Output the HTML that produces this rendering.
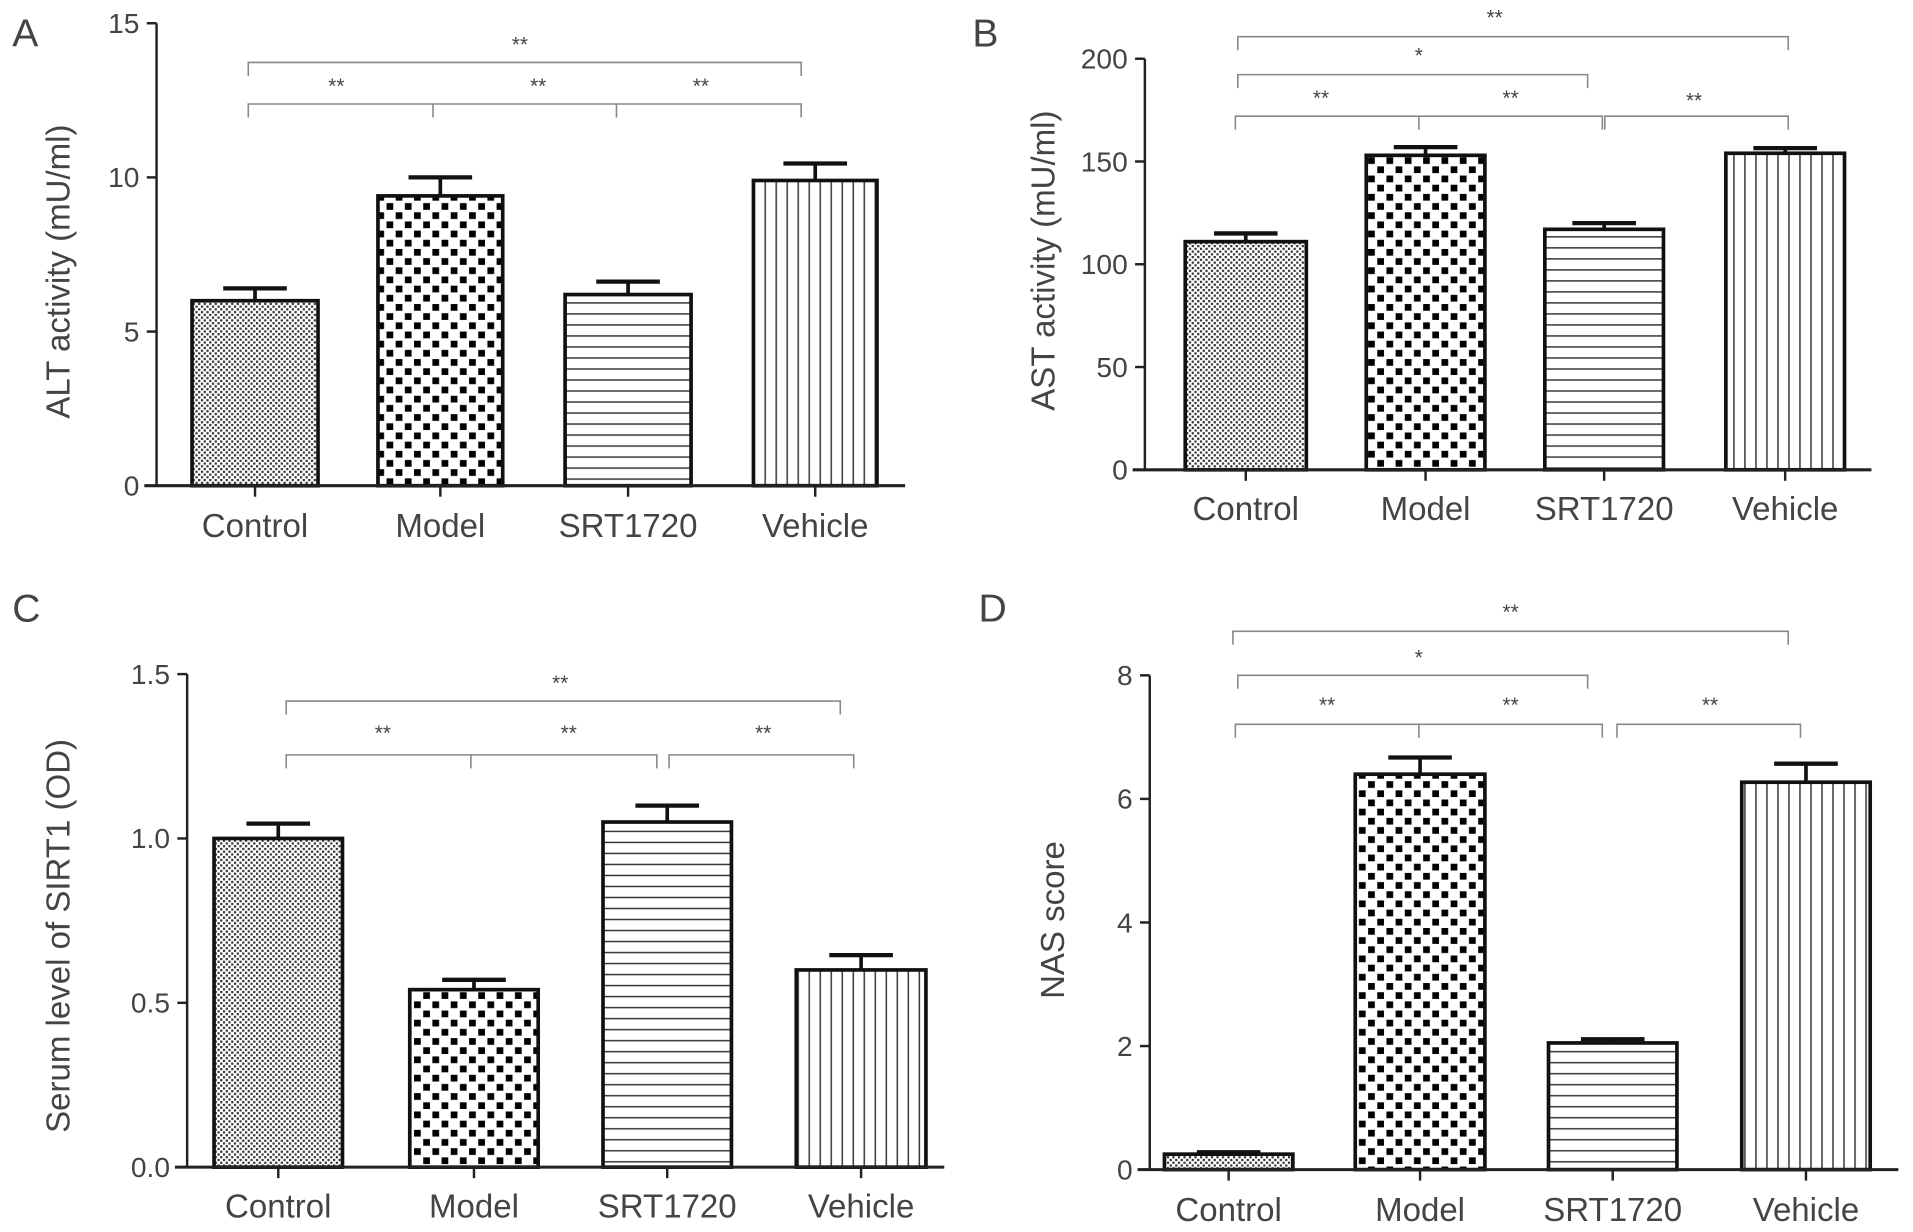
<!DOCTYPE html>
<html><head><meta charset="utf-8"><style>
html,body{margin:0;padding:0;background:#fff;}
svg{display:block;}
text{font-family:"Liberation Sans",sans-serif;fill:#444;}
</style></head><body>
<svg id="fig" width="1913" height="1232" viewBox="0 0 1564 1007" preserveAspectRatio="none" xmlns="http://www.w3.org/2000/svg">
<defs>
<pattern id="pCtrl" width="4.5" height="4.5" patternUnits="userSpaceOnUse"><rect width="4.5" height="4.5" fill="#fff"/><rect width="1.8" height="1.8" fill="#333"/><rect x="2.25" y="2.25" width="1.8" height="1.8" fill="#333"/></pattern>
<pattern id="pModel" width="15" height="15" patternUnits="userSpaceOnUse"><rect width="15" height="15" fill="#fff"/><rect x="1" y="1" width="5.5" height="5.5" fill="#000"/><rect x="8.5" y="8.5" width="5.5" height="5.5" fill="#000"/></pattern>
<pattern id="pSrt" width="10" height="9" patternUnits="userSpaceOnUse"><rect width="10" height="9" fill="#fff"/><rect y="4" width="10" height="1.2" fill="#333"/></pattern>
<pattern id="pVeh" width="9" height="10" patternUnits="userSpaceOnUse"><rect width="9" height="10" fill="#fff"/><rect x="4" width="1.2" height="10" fill="#333"/></pattern>
</defs>
</svg>
<script>
const categories = ["Control","Model","SRT1720","Vehicle"];
const altValues = [6.0, 9.4, 6.2, 9.9];
const altErrors = [0.4, 0.6, 0.42, 0.55];
const altTicks = ["0","5","10","15"];
const astValues = [111, 153, 117, 154];
const astErrors = [4, 4, 3, 2.5];
const astTicks = ["0","50","100","150","200"];
const sirtValues = [1.0, 0.54, 1.05, 0.60];
const sirtErrors = [0.045, 0.03, 0.05, 0.045];
const sirtTicks = ["0.0","0.5","1.0","1.5"];
const nasValues = [0.25, 6.4, 2.05, 6.27];
const nasErrors = [0.03, 0.27, 0.06, 0.3];
const nasTicks = ["0","2","4","6","8"];

const svg = document.getElementById('fig');
const NS = 'http://www.w3.org/2000/svg';
const fills = ['url(#pCtrl)','url(#pModel)','url(#pSrt)','url(#pVeh)'];
function mk(tag, attrs, parent){const e=document.createElementNS(NS,tag);for(const k in attrs)e.setAttribute(k,attrs[k]);(parent||svg).appendChild(e);return e;}

const panels = [
 {letter:'A',lx:10,ly:38,yl:'ALT activity (mU/ml)',ylx:57,yly:222,ax:128,yTop:19,yBot:397,max:15,ticks:altTicks,vals:altValues,errs:altErrors,
  x0:118,x1:740,bars:[[157,260],[309,411],[462,565],[616,717]],lab:439,
  brk:[[51,[203,655],[],[{t:'**',x:425,y:42}]],[85,[203,655],[354,504],[{t:'**',x:275,y:76},{t:'**',x:440,y:76},{t:'**',x:573,y:76}]]]},
 {letter:'B',lx:795,ly:38,yl:'AST activity (mU/ml)',ylx:862,yly:213,ax:936,yTop:48,yBot:384,max:200,ticks:astTicks,vals:astValues,errs:astErrors,
  x0:926,x1:1530,bars:[[969,1068],[1117,1214],[1263,1360],[1411,1508]],lab:425,
  brk:[[30,[1012,1462],[],[{t:'**',x:1222,y:20}]],[61,[1012,1298],[],[{t:'*',x:1160,y:51}]],[95,[1010,1310],[1160],[{t:'**',x:1080,y:86},{t:'**',x:1235,y:86}]],[95,[1312,1462],[],[{t:'**',x:1385,y:88}]]]},
 {letter:'C',lx:10,ly:508,yl:'Serum level of SIRT1 (OD)',ylx:57,yly:765,ax:153,yTop:551,yBot:954,max:1.5,ticks:sirtTicks,vals:sirtValues,errs:sirtErrors,
  x0:143,x1:772,bars:[[175,280],[335,440],[493,598],[651,757]],lab:995,
  brk:[[573,[234,687],[],[{t:'**',x:458,y:564}]],[617,[234,537],[385],[{t:'**',x:313,y:605},{t:'**',x:465,y:605}]],[617,[547,698],[],[{t:'**',x:624,y:605}]]]},
 {letter:'D',lx:800,ly:508,yl:'NAS score',ylx:870,yly:752,ax:940,yTop:552,yBot:956,max:8,ticks:nasTicks,vals:nasValues,errs:nasErrors,
  x0:930,x1:1552,bars:[[952,1057],[1108,1214],[1266,1371],[1424,1529]],lab:998,
  brk:[[516,[1008,1462],[],[{t:'**',x:1235,y:506}]],[552,[1012,1298],[],[{t:'*',x:1160,y:543}]],[592,[1010,1310],[1160],[{t:'**',x:1085,y:582},{t:'**',x:1235,y:582}]],[592,[1322,1472],[],[{t:'**',x:1398,y:582}]]]}
];

panels.forEach((p,pi)=>{
 const g=mk('g',{});
 
 
 const ys=v=>p.yBot-(v/p.max)*(p.yBot-p.yTop);
 const L=mk('text',{x:p.lx,y:p.ly,'font-size':32,fill:'#222'},g);L.textContent=p.letter;
 
 
 const ya=mk('line',{x1:p.ax,y1:p.yTop,x2:p.ax,y2:p.yBot,stroke:'#222','stroke-width':2},g);
 
 
 p.ticks.forEach((t,i)=>{
  const v=parseFloat(t);const y=ys(v);
  mk('line',{x1:p.ax-8,y1:y,x2:p.ax,y2:y,stroke:'#222','stroke-width':2},g);
  const tx=mk('text',{x:p.ax-14,y:y+8,'font-size':23,'text-anchor':'end'},g);tx.textContent=t;
  
  
 });
 const yl=mk('text',{x:p.ylx,y:p.yly,'font-size':27,'text-anchor':'middle',transform:`rotate(-90 ${p.ylx} ${p.yly})`},g);
 yl.textContent=p.yl;
 
 
 p.vals.forEach((v,i)=>{
  const [a,b]=p.bars[i];const c=(a+b)/2;const top=ys(v);const et=ys(v+p.errs[i]);
  mk('line',{x1:c,y1:et,x2:c,y2:top,stroke:'#111','stroke-width':3},g);
  mk('line',{x1:c-26,y1:et,x2:c+26,y2:et,stroke:'#111','stroke-width':3.5},g);
  const r=mk('rect',{x:a,y:top,width:b-a,height:p.yBot-top,fill:fills[i],stroke:'#111','stroke-width':3},g);
  
  
  mk('line',{x1:c,y1:p.yBot,x2:c,y2:p.yBot+9,stroke:'#222','stroke-width':2},g);
  const lt=mk('text',{x:c,y:p.lab,'font-size':27,'text-anchor':'middle'},g);lt.textContent=categories[i];
  
  
 });
 const xa=mk('line',{x1:p.x0,y1:p.yBot,x2:p.x1,y2:p.yBot,stroke:'#222','stroke-width':2.5},g);
 
 
 p.brk.forEach(b=>{
  const [y,[xa1,xb],mids,stars]=b;
  const path=mk('path',{d:`M${xa1} ${y+11}V${y}H${xb}V${y+11}`+mids.map(m=>`M${m} ${y}V${y+11}`).join(''),fill:'none',stroke:'#888','stroke-width':1.3},g);
  
  
  stars.forEach(s=>{const st=mk('text',{x:s.x,y:s.y,'font-size':17,'text-anchor':'middle'},g);st.textContent=s.t;
   
   });
 });
});
</script>
</body></html>
